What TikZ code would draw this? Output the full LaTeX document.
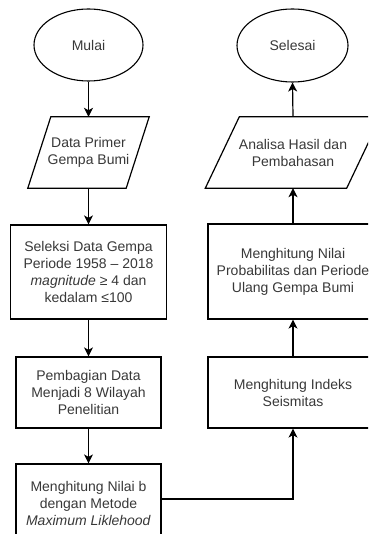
\documentclass[tikz,border=0pt]{standalone}
\usepackage{fontspec}
\setmainfont{Liberation Sans}
\usetikzlibrary{arrows.meta,calc,shapes.geometric}
\begin{document}
\begin{tikzpicture}[x=1pt,y=-1pt,
  txt/.style={font=\fontsize{14}{17}\selectfont, text=black!78, align=center, inner sep=0pt},
  term/.style={txt, draw, ellipse, line width=1.1pt, minimum width=109pt, minimum height=72pt},
  proc/.style={txt, draw, rectangle, line width=1.2pt},
  iobox/.style={txt, rectangle, minimum height=71pt},
  arr/.style={line width=1.2pt, -{Stealth[length=9pt,width=9pt,inset=2.5pt]}},
  edge/.style={line width=1.2pt, line join=miter}
]
\useasboundingbox (0,0) rectangle (368,534);
\clip (0,0) rectangle (368,534);

% left column
\node[term] (mul) at (88.5,45) {Mulai};
\node[iobox, minimum width=121pt] (p1) at (88.5,152.5) {Data Primer\\Gempa Bumi};
\draw[edge] (p1.south west) -- ([xshift=-23pt]p1.south east) -- (p1.north east) -- ([xshift=23pt]p1.north west) -- cycle;
\node[proc, minimum width=156pt, minimum height=94pt] (b1) at (88.5,272) {Seleksi Data Gempa\\Periode 1958 – 2018\\\textit{magnitude} ≥ 4 dan\\kedalam ≤100};
\node[proc, minimum width=145pt, minimum height=71pt] (b2) at (88.5,392.5) {Pembagian Data\\Menjadi 8 Wilayah\\Penelitian};
\node[proc, minimum width=145pt, minimum height=78pt] (b3) at (88.5,503) {Menghitung Nilai b\\dengan Metode\\\textit{Maximum Liklehood}};

% right column
\node[term, minimum width=111pt, minimum height=73pt] (sel) at (292.5,45.5) {Selesai};
\node[iobox, minimum width=175pt] (p2) at (293,152.5) {Analisa Hasil dan\\Pembahasan};
\draw[edge] (p2.south west) -- ([xshift=-34pt]p2.south east) -- (p2.north east) -- ([xshift=34pt]p2.north west) -- cycle;
\node[proc, minimum width=170pt, minimum height=95pt] (prob) at (293,271.5) {Menghitung Nilai\\Probabilitas dan Periode\\Ulang Gempa Bumi};
\node[proc, minimum width=170pt, minimum height=71pt] (ind) at (293,392.5) {Menghitung Indeks\\Seismitas};

% connectors
\draw[arr] (mul.south) -- (p1.north);
\draw[arr] (p1.south) -- (b1.north);
\draw[arr] (b1.south) -- (b2.north);
\draw[arr] (b2.south) -- (b3.north);
\draw[arr] ([yshift=4pt]b3.east) -| (ind.south);
\draw[arr] (ind.north) -- (prob.south);
\draw[arr] (prob.north) -- (p2.south);
\draw[arr] (p2.north) -- (sel.south);
\end{tikzpicture}
\end{document}
